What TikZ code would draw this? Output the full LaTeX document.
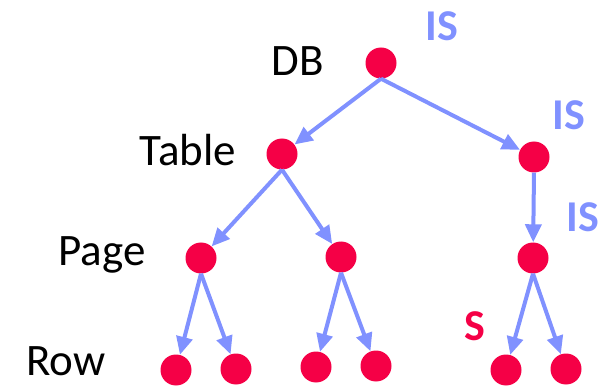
\documentclass[tikz,border=0pt]{standalone}
\usepackage{fontspec}
\setmainfont{Carlito}
\usetikzlibrary{arrows.meta}
\definecolor{lockred}{RGB}{245,0,70}
\definecolor{lockblue}{RGB}{128,145,255}

\begin{document}
\begin{tikzpicture}[x=1pt,y=1pt,
  obj/.style={circle,fill=lockred,inner sep=0pt,minimum size=31pt},
  lvl/.style={anchor=base,font=\fontsize{45}{54}\selectfont},
  lk/.style={anchor=base,font=\fontsize{44}{52}\selectfont\bfseries},
  arr/.style={draw=lockblue,line width=4pt,-{Triangle[length=18pt,width=16pt]}}]
\useasboundingbox (0,0) rectangle (608,386);
% objects
\node [obj] (db) at (381,323) {};
\node [obj] (tab) at (282,232) {};
\node [obj] (tabR) at (534,229) {};
\node [obj] (pg1) at (201,128) {};
\node [obj] (pg2) at (341,129) {};
\node [obj] (pg3) at (533,128) {};
\node [obj] (row1) at (176,16) {};
\node [obj] (row2) at (236,17) {};
\node [obj] (row3) at (316,19) {};
\node [obj] (row4) at (376,20) {};
\node [obj] (row5) at (506,16) {};
\node [obj] (row6) at (566,17) {};
% levels
\node [lvl] (lDB) at (298,310) {DB};
\node [lvl] (lTab) at (188,220) {Table};
\node [lvl] (lPage) at (102,121) {Page};
\node [lvl] (lRow) at (66,11) {Row};
% locks
\node [lk,text=lockblue] (is1) at (442,345) {IS};
\node [lk,text=lockblue] (is2) at (569,256) {IS};
\node [lk,text=lockblue] (is3) at (583,154) {IS};
\node [lk,text=lockred] (s1) at (475,46) {S};
% edges
\draw [arr] (db.south) -- (tab);
\draw [arr] (db.south) -- (tabR);
\draw [arr] (tab.south) -- (pg1);
\draw [arr] (tab.south) -- (pg2);
\draw [arr] (tabR.south) -- (pg3);
\draw [arr] (pg1.south) -- (row1);
\draw [arr] (pg1.south) -- (row2);
\draw [arr] (pg2.south) -- (row3);
\draw [arr] (pg2.south) -- (row4);
\draw [arr] (pg3.south) -- (row5);
\draw [arr] (pg3.south) -- (row6);
\end{tikzpicture}
\end{document}
